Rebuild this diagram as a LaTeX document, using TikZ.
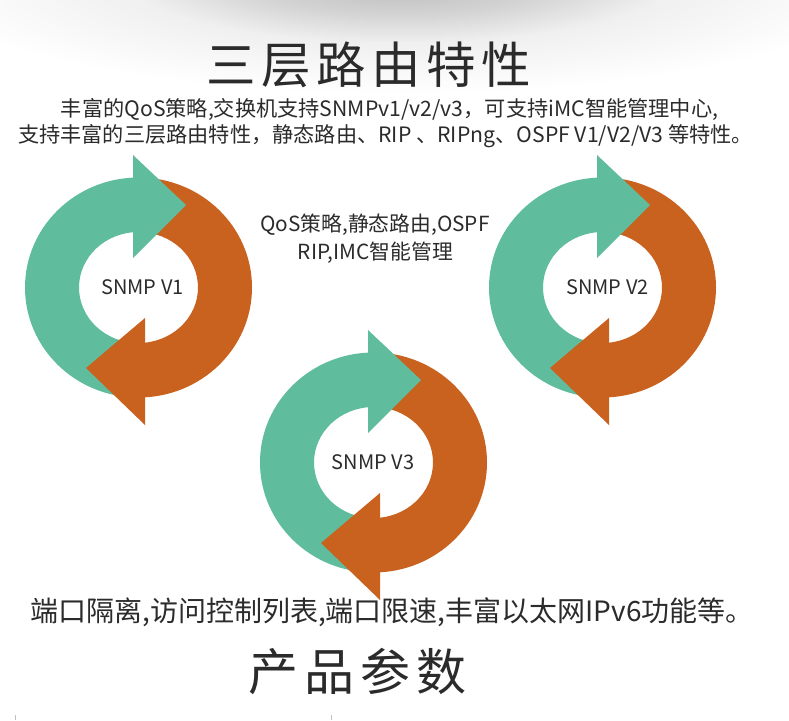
\documentclass[tikz,border=0pt]{standalone}
\usepackage{fontspec}
\setmainfont{Noto Sans CJK SC}
\definecolor{ringgreen}{HTML}{5FBD9E}
\definecolor{ringorange}{HTML}{C9621E}
\definecolor{inktext}{HTML}{2B2B2B}
\pgfdeclareradialshading{topglow}{\pgfpoint{0bp}{0bp}}{color(0bp)=(black!28); color(8bp)=(black!17); color(14bp)=(black!6); color(25bp)=(white); color(50bp)=(white)}
\tikzset{
  titletext/.style={text=inktext,inner sep=0pt,font=\fontsize{49.5}{56}\selectfont\addfontfeature{LetterSpace=11}},
  paramtext/.style={text=inktext,inner sep=0pt,font=\fontsize{50}{56}\selectfont\addfontfeature{LetterSpace=12}},
  bodytext/.style={text=inktext,inner sep=0pt,font=\fontsize{21.2}{24}\selectfont},
  midtext/.style={text=inktext,inner sep=0pt,font=\fontsize{20.8}{24}\selectfont},
  ringtext/.style={text=inktext,inner sep=0pt,font=\fontsize{20}{22}\selectfont},
  bigtext/.style={text=inktext,inner sep=0pt,font=\fontsize{28}{32}\selectfont},
  tick/.style={draw=black!25,line width=0.6pt}
}
% #1 = shift x, #2 = shift y, #3 = label, #4 = name, #5 = label x
\newcommand{\cyclering}[5]{%
  \begin{scope}[shift={(#1,#2)}]
    \begin{scope}
      \clip (0,100) rectangle (140,460);
      \fill[ringgreen,even odd rule] (138.5,287.5) ellipse [x radius=113.5,y radius=110]
        (138.5,287.5) ellipse [x radius=59.5,y radius=55.5];
    \end{scope}
    \begin{scope}
      \clip (140,100) rectangle (280,460);
      \fill[ringorange,even odd rule] (138.5,287.5) ellipse [x radius=113.5,y radius=110]
        (138.5,287.5) ellipse [x radius=59.5,y radius=55.5];
    \end{scope}
    \fill[ringgreen] (133,155) -- (186,205) -- (133,258) -- cycle;
    \fill[ringorange] (145,318) -- (86,368) -- (145,425) -- cycle;
    \node[ringtext] (#4) at (#5,287) {#3};
  \end{scope}}
\begin{document}
\begin{tikzpicture}[x=1pt,y=-1pt]
  \useasboundingbox (0,0) rectangle (789,720);
  \fill[white] (0,0) rectangle (789,720);
  \begin{scope}
    \clip (0,0) rectangle (789,720);
    \shade[shading=topglow] (400,-22) ellipse [x radius=490,y radius=116];
  \end{scope}
  \node[titletext] (title) at (369,65) {三层路由特性};
  \node[bodytext] (line1) at (389.5,110) {丰富的QoS策略,交换机支持SNMPv1/v2/v3，可支持iMC智能管理中心,};
  \node[bodytext] (line2) at (385.5,136) {支持丰富的三层路由特性，静态路由、RIP 、RIPng、OSPF V1/V2/V3 等特性。};
  \cyclering{0}{0}{SNMP V1}{ringa}{142.5}
  \cyclering{464}{0}{SNMP V2}{ringb}{143.5}
  \cyclering{235}{175}{SNMP V3}{ringc}{138}
  \node[midtext] (mid1) at (375,225) {QoS策略,静态路由,OSPF};
  \node[midtext] (mid2) at (375.5,253) {RIP,IMC智能管理};
  \node[bigtext] (ports) at (392,612) {端口隔离,访问控制列表,端口限速,丰富以太网IPv6功能等。};
  \node[paramtext] (params) at (357.5,672) {产品参数};
  \coordinate (tickaT) at (15,715); \coordinate (tickaB) at (15,720);
  \coordinate (tickbT) at (331,715); \coordinate (tickbB) at (331,720);
  \draw[tick] (tickaT) -- (tickaB);
  \draw[tick] (tickbT) -- (tickbB);
\end{tikzpicture}
\end{document}
